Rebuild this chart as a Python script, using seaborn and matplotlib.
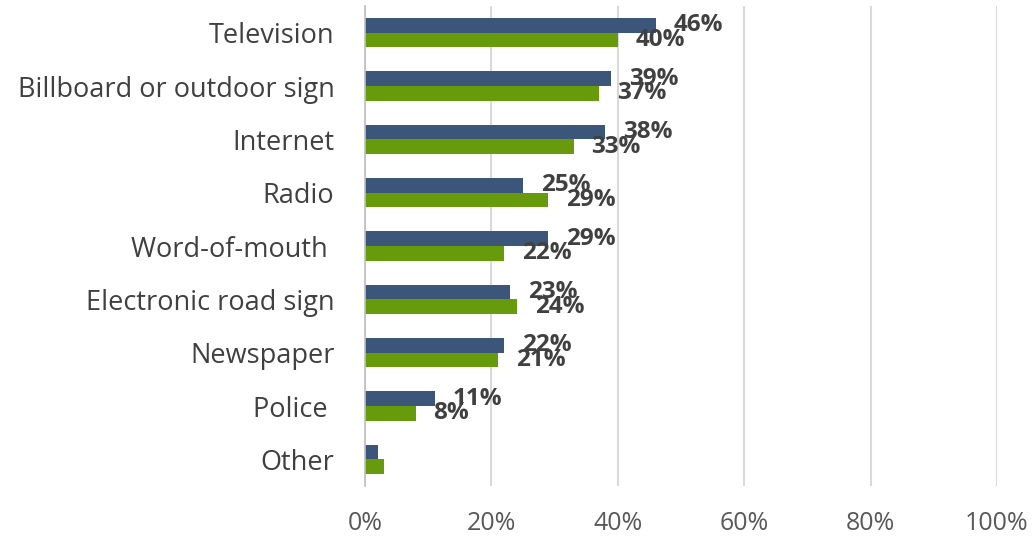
import matplotlib
matplotlib.use("Agg")
import matplotlib.pyplot as plt
import seaborn as sns
import pandas as pd

# Sources of information, share of respondents (percent)
categories = [
    "Television",
    "Billboard or outdoor sign",
    "Internet",
    "Radio",
    "Word-of-mouth ",
    "Electronic road sign",
    "Newspaper",
    "Police ",
    "Other",
]
series_names = ["Group 1", "Group 2"]
group1 = [46, 39, 38, 25, 29, 23, 22, 11, 2]
group2 = [40, 37, 33, 29, 22, 24, 21, 8, 3]
labelled = [True, True, True, True, True, True, True, True, False]
x_ticks = [0, 20, 40, 60, 80, 100]
x_tick_labels = ["0%", "20%", "40%", "60%", "80%", "100%"]

colors = ["#3B5679", "#679B0B"]

df = pd.DataFrame({
    "category": categories * 2,
    "series": [series_names[0]] * len(categories) + [series_names[1]] * len(categories),
    "value": group1 + group2,
})

sns.set_theme(style="white")
plt.rcParams["font.family"] = ["Open Sans", "DejaVu Sans"]

fig = plt.figure(figsize=(10.34, 5.43), dpi=100)
ax = fig.add_axes([365 / 1034, 1 - 486 / 543, (997 - 365) / 1034, (486 - 6) / 543])

sns.barplot(
    data=df, y="category", x="value", hue="series",
    order=categories, hue_order=series_names,
    palette=colors, orient="h", width=0.55, gap=0,
    legend=False, ax=ax, saturation=1, linewidth=0,
)

ax.set_xlim(0, 100)
ax.set_xticks(x_ticks)
ax.set_xticklabels(x_tick_labels)
ax.set_xlabel("")
ax.set_ylabel("")
ax.xaxis.grid(True, color="#D9D9D9", linewidth=1.5)
ax.set_axisbelow(True)
for side in ["top", "right", "bottom"]:
    ax.spines[side].set_visible(False)
ax.spines["left"].set_color("#BFBFBF")
ax.spines["left"].set_linewidth(1.2)
ax.tick_params(axis="x", length=0, pad=18, labelsize=18, labelcolor="#595959")
ax.tick_params(axis="y", length=0, pad=22, labelsize=19.5, labelcolor="#404040")

# Value labels at the end of each bar
for container, values in zip(ax.containers, [group1, group2]):
    for bar, v, show in zip(container.patches, values, labelled):
        if not show:
            continue
        ax.annotate(
            f"{v}%",
            xy=(bar.get_width(), bar.get_y() + bar.get_height() / 2),
            xytext=(13, 0), textcoords="offset points",
            ha="left", va="center", fontsize=17.5, fontweight="bold",
            color="#404040",
        )

fig.savefig("out.png", dpi=100)
